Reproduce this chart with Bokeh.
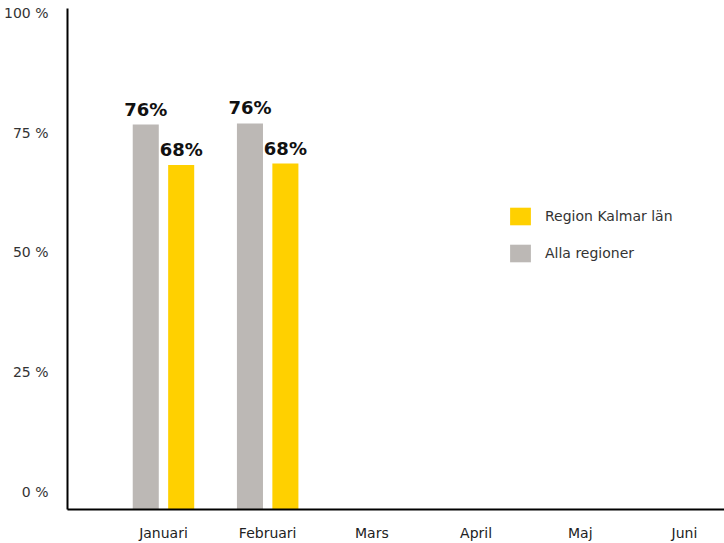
import numpy as np
from bokeh.plotting import figure
from bokeh.models import (ColumnDataSource, Range1d, LinearAxis, FixedTicker,
                          Legend, LegendItem)
from bokeh.core.properties import value
from bokeh.embed import file_html
from bokeh.resources import INLINE

# ---- data ----
months = ["Januari", "Februari", "Mars", "April", "Maj", "Juni"]
alla_regioner = [76.0, 76.2]
region_kalmar = [68.0, 68.3]
alla_text = ["76%", "76%"]
kalmar_text = ["68%", "68%"]
y_ticks = [0, 25, 50, 75, 100]
y_tick_labels = ["0 %", "25 %", "50 %", "75 %", "100 %"]
series_names = ["Region Kalmar län", "Alla regioner"]

FONT = "DejaVu Sans"
GRAY = "#BCB8B5"
YELLOW = "#FFD000"

idx = np.arange(len(alla_regioner))
src_alla = ColumnDataSource(dict(x=idx - 0.17, top=alla_regioner, label=alla_text))
src_kalmar = ColumnDataSource(dict(x=idx + 0.17, top=region_kalmar, label=kalmar_text))

p = figure(width=724, height=543, output_backend="svg", toolbar_location=None,
           x_range=Range1d(-0.921, 5.384), y_range=Range1d(0, 98.9),
           min_border_left=67, min_border_right=0, min_border_top=8,
           min_border_bottom=34)
p.grid.visible = False
p.outline_line_color = None
p.background_fill_color = "white"

# hide default y-axis; labels axis on its own range
p.yaxis[0].visible = False
p.extra_y_ranges = {"lab": Range1d(-3.76, 100.96)}
yax = LinearAxis(y_range_name="lab", ticker=FixedTicker(ticks=y_ticks),
                 major_label_overrides={t: l for t, l in zip(y_ticks, y_tick_labels)})
yax.axis_line_width = 2
yax.axis_line_color = "black"
yax.major_tick_line_color = None
yax.minor_tick_line_color = None
yax.major_label_standoff = 13
yax.major_label_text_font = FONT
yax.major_label_text_font_size = "14px"
yax.major_label_text_color = "#333333"
p.add_layout(yax, "left")

xax = p.xaxis[0]
xax.ticker = FixedTicker(ticks=list(range(len(months))))
xax.major_label_overrides = {i: m for i, m in enumerate(months)}
xax.axis_line_width = 2
xax.axis_line_color = "black"
xax.major_tick_line_color = None
xax.minor_tick_line_color = None
xax.major_label_standoff = 9
xax.major_label_text_font = FONT
xax.major_label_text_font_size = "14px"
xax.major_label_text_color = "#222222"

rg = p.vbar(x="x", top="top", bottom=0, width=0.25, source=src_alla,
            fill_color=GRAY, line_color=None)
ry = p.vbar(x="x", top="top", bottom=0, width=0.25, source=src_kalmar,
            fill_color=YELLOW, line_color=None)

for s in (src_alla, src_kalmar):
    p.text(x="x", y="top", text="label", source=s, text_align="center",
           text_baseline="bottom", y_offset=-5, text_font=value(FONT),
           text_font_style="bold", text_font_size="18px", text_color="#111111")

legend = Legend(items=[LegendItem(label=series_names[0], renderers=[ry]),
                       LegendItem(label=series_names[1], renderers=[rg])],
                location=(440, 245), border_line_color=None,
                background_fill_alpha=0, glyph_width=26, glyph_height=22,
                spacing=15, label_standoff=12, padding=0, margin=0,
                label_text_font=FONT, label_text_font_size="14px",
                label_text_color="#333333")
p.add_layout(legend)

open("out.html", "w").write(file_html(p, INLINE))
